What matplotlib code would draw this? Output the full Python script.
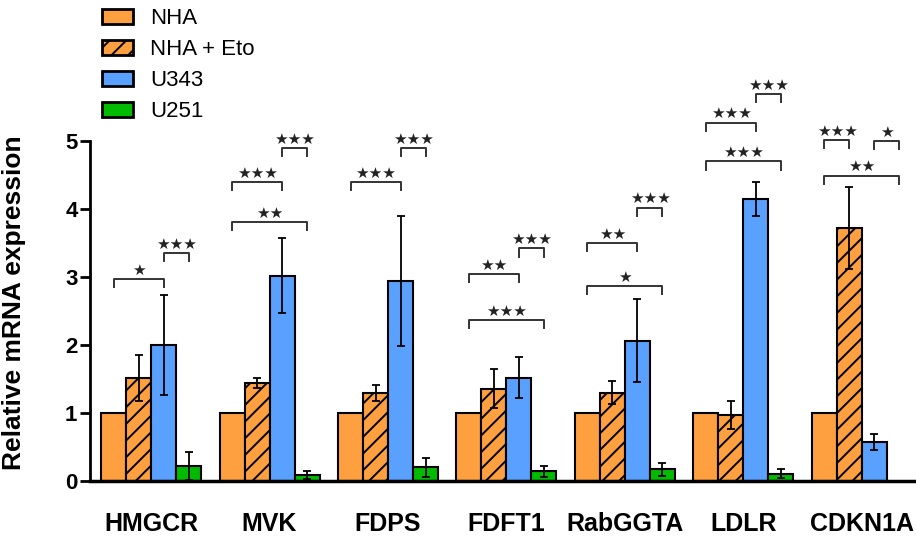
import numpy as np
import matplotlib.pyplot as plt

plt.rcParams['font.family'] = ['Liberation Sans', 'DejaVu Sans']

genes = ['HMGCR', 'MVK', 'FDPS', 'FDFT1', 'RabGGTA', 'LDLR', 'CDKN1A']
series = ['NHA', 'NHA + Eto', 'U343', 'U251']

nha = [1, 1, 1, 1, 1, 1, 1]
nha_eto = [1.52, 1.44, 1.29, 1.36, 1.30, 0.97, 3.72]
u343 = [2.00, 3.02, 2.94, 1.52, 2.06, 4.14, 0.57]
u251 = [0.22, 0.09, 0.20, 0.14, 0.17, 0.11, np.nan]

err_eto = [0.34, 0.07, 0.12, 0.28, 0.17, 0.20, 0.60]
err_u343 = [0.74, 0.55, 0.95, 0.30, 0.61, 0.25, 0.12]
err_u251 = [0.20, 0.06, 0.14, 0.08, 0.10, 0.06, np.nan]

# significance: (gene index, bar a, bar b, height, label)
sig = [
    (0, 0, 2, 2.97, '*'), (0, 2, 3, 3.35, '***'),
    (1, 0, 2, 4.40, '***'), (1, 0, 3, 3.81, '**'), (1, 2, 3, 4.90, '***'),
    (2, 0, 2, 4.40, '***'), (2, 2, 3, 4.90, '***'),
    (3, 0, 2, 3.04, '**'), (3, 0, 3, 2.37, '***'), (3, 2, 3, 3.42, '***'),
    (4, 0, 2, 3.50, '**'), (4, 0, 3, 2.87, '*'), (4, 2, 3, 4.02, '***'),
    (5, 0, 2, 5.27, '***'), (5, 0, 3, 4.70, '***'), (5, 2, 3, 5.69, '***'),
    (6, 0, 1, 5.01, '***'), (6, 0, 3, 4.49, '**'), (6, 2, 3, 5.00, '*'),
]

orange = '#FFA040'
blue = '#5AA0FF'
green = '#00BB00'

fig = plt.figure(figsize=(9.16, 5.38), dpi=100)
ax = fig.add_axes([90/916, 1 - 481/538, 826/916, 340/538])

x = np.arange(len(genes))
w = 0.211
offs = (np.arange(4) - 1.5) * w

plt.rcParams['hatch.linewidth'] = 1.4
ekw = dict(ecolor='black', elinewidth=1.3, capsize=3, capthick=1.3)
blw = 1.5
ax.bar(x + offs[0], nha, w, color=orange, edgecolor='black', lw=blw, label=series[0])
ax.bar(x + offs[1], nha_eto, w, color=orange, edgecolor='black', lw=blw, hatch='//',
       yerr=err_eto, error_kw=ekw, label=series[1])
ax.bar(x + offs[2], u343, w, color=blue, edgecolor='black', lw=blw,
       yerr=err_u343, error_kw=ekw, label=series[2])
ax.bar(x + offs[3], u251, w, color=green, edgecolor='black', lw=blw,
       yerr=err_u251, error_kw=ekw, label=series[3])

tick = 0.12
for g, a, b, h, lab in sig:
    x1, x2 = x[g] + offs[a], x[g] + offs[b]
    ax.plot([x1, x1, x2, x2], [h - tick, h, h, h - tick], color='#333333', lw=1.4,
            clip_on=False)
    ax.text((x1 + x2) / 2, h + 0.02, '\u2605' * len(lab), ha='center', va='bottom',
            fontsize=11, color='#222222', family='DejaVu Sans', clip_on=False)

ax.set_xlim(-0.515, 6.456)
ax.set_ylim(0, 5)
ax.set_yticks([0, 1, 2, 3, 4, 5])
ax.set_xticks(x)
ax.set_xticklabels(genes, fontsize=18, fontweight='bold')
ax.tick_params(axis='x', length=0, pad=22)
ax.tick_params(axis='y', length=7, width=2, pad=2, labelsize=16)
for t in ax.get_yticklabels():
    t.set_fontweight('bold')
ax.spines['top'].set_visible(False)
ax.spines['right'].set_visible(False)
ax.spines['left'].set_linewidth(2)
ax.spines['bottom'].set_linewidth(2.5)

ax.set_ylabel('Relative mRNA expression', fontsize=19, fontweight='bold')
ax.yaxis.set_label_coords(-0.078, 0.525)

leg = fig.legend(loc='upper left', bbox_to_anchor=(102/916, 1 - 8/538), frameon=False,
                 fontsize=16, handlelength=1.4, handleheight=0.65, labelspacing=0.45,
                 handletextpad=0.75, borderpad=0, borderaxespad=0)
for p in leg.get_patches():
    p.set_linewidth(2)

fig.savefig('out.png', dpi=100)
